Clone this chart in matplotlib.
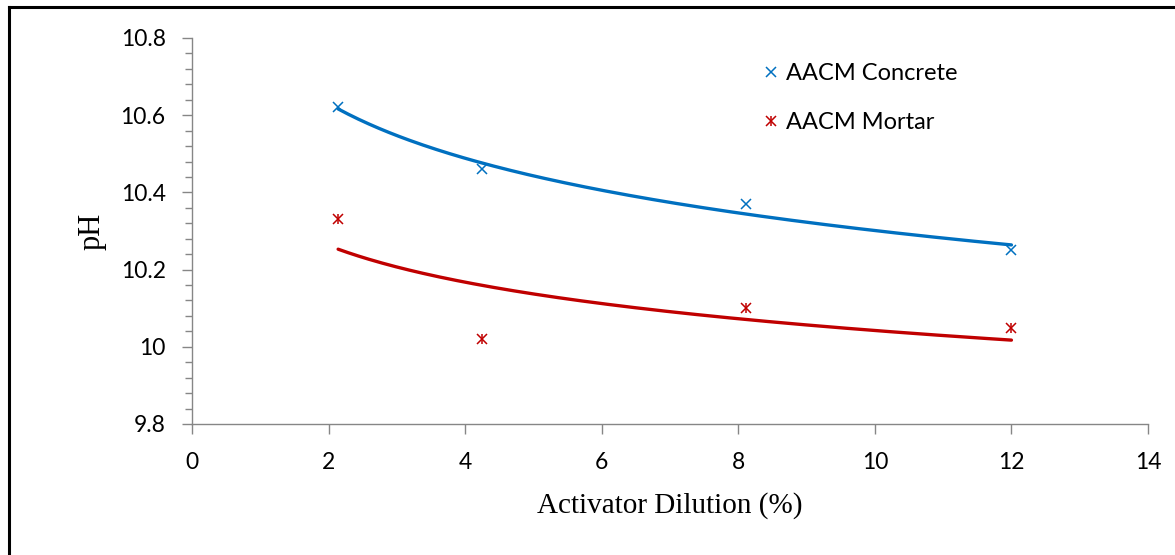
import numpy as np
import matplotlib.pyplot as plt
from matplotlib.lines import Line2D
from matplotlib.ticker import MultipleLocator

# data
dilution = [2.14, 4.25, 8.12, 12.0]
ph_concrete = [10.62, 10.46, 10.37, 10.25]
ph_mortar = [10.33, 10.02, 10.10, 10.05]

blue = '#0070C0'
red = '#C00000'
grey = '#868686'
tickFont = 'Lato'
labelFont = 'Liberation Serif'


def logTrend(x, y):
    # excel style logarithmic trendline
    a, b = np.polyfit(np.log(x), y, 1)
    xs = np.linspace(min(x), max(x), 200)
    return xs, a * np.log(xs) + b


fig = plt.figure(figsize=(11.75, 5.55), dpi=100)
ax = fig.add_axes([192 / 1175, 1 - 424 / 555, 956 / 1175, 386 / 555])

xs, ys = logTrend(dilution, ph_concrete)
ax.plot(xs, ys, color=blue, lw=2.4, solid_capstyle='round', zorder=2)
xs, ys = logTrend(dilution, ph_mortar)
ax.plot(xs, ys, color=red, lw=2.4, solid_capstyle='round', zorder=2)

ax.plot(dilution, ph_concrete, ls='none', marker='x', ms=7, mew=1.1, color=blue, zorder=3)
ax.plot(dilution, ph_mortar, ls='none', marker='x', ms=7, mew=1.1, color=red, zorder=3)
ax.plot(dilution, ph_mortar, ls='none', marker='|', ms=7, mew=1.1, color=red, zorder=3)

ax.set_xlim(0, 14)
ax.set_ylim(9.8, 10.8)
ax.xaxis.set_major_locator(MultipleLocator(2))
ax.yaxis.set_minor_locator(MultipleLocator(0.04))
ax.set_yticks([9.8, 10.0, 10.2, 10.4, 10.6, 10.8])
ax.set_yticklabels(['9.8', '10', '10.2', '10.4', '10.6', '10.8'])

for s in ['top', 'right']:
    ax.spines[s].set_visible(False)
for s in ['left', 'bottom']:
    ax.spines[s].set_color(grey)
    ax.spines[s].set_linewidth(1.0)
ax.tick_params(which='major', direction='out', length=7, width=1, color=grey,
               labelsize=16.5)
ax.tick_params(axis='y', pad=12)
ax.tick_params(axis='x', pad=13)
ax.tick_params(which='minor', direction='out', length=5, width=1, color=grey)
ax.tick_params(axis='x', which='minor', length=0)
for lab in ax.get_xticklabels() + ax.get_yticklabels():
    lab.set_fontfamily(tickFont)

ax.set_xlabel('Activator Dilution (%)', fontsize=21, fontfamily=labelFont, labelpad=14)
ax.set_ylabel('pH', fontsize=22, fontfamily=labelFont, labelpad=10)

handles = [Line2D([], [], ls='none', marker='x', ms=7, mew=1.1, color=blue),
           (Line2D([], [], ls='none', marker='x', ms=7, mew=1.1, color=red),
            Line2D([], [], ls='none', marker='|', ms=7, mew=1.1, color=red))]
leg = ax.legend(handles, ['AACM Concrete', 'AACM Mortar'], loc='upper left',
                bbox_to_anchor=(0.571, 0.99), frameon=False, handlelength=1.0,
                handletextpad=0.15, labelspacing=1.2, prop={'family': tickFont, 'size': 17})

# outer frame, only left and top edges are visible in the reference
fig.add_artist(Line2D([9 / 1175, 9 / 1175], [0, 1 - 6.5 / 555], color='black', lw=2.2))
fig.add_artist(Line2D([9 / 1175, 1], [1 - 6.5 / 555, 1 - 6.5 / 555], color='black', lw=2.2))

fig.savefig('out.png', dpi=100)
